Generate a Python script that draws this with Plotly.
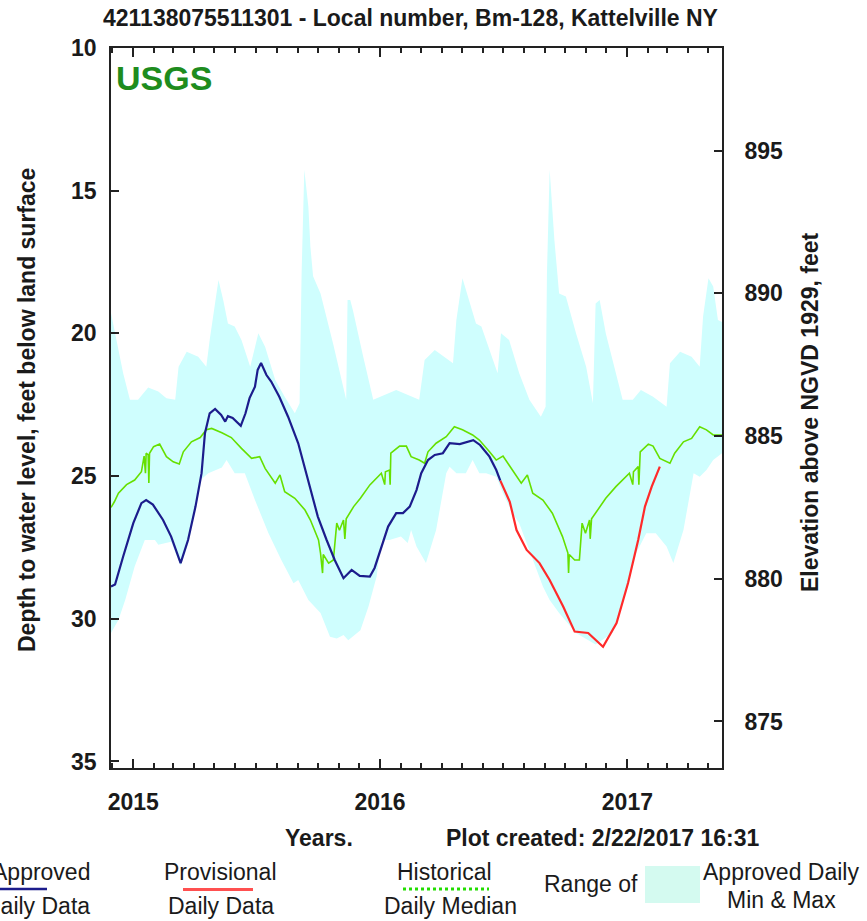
import plotly.graph_objects as go

# ---------------- data ----------------
LAND_SURFACE = 908.6  # elevation of land surface, ft NGVD 1929

approved_dates = ["2014-11-29", "2014-12-05", "2014-12-17", "2015-01-01", "2015-01-13", "2015-01-20",
                  "2015-01-30", "2015-02-14", "2015-02-26", "2015-03-12", "2015-03-23", "2015-04-03",
                  "2015-04-12", "2015-04-17", "2015-04-24", "2015-05-02", "2015-05-11", "2015-05-17",
                  "2015-05-21", "2015-05-28", "2015-06-09", "2015-06-16", "2015-06-22", "2015-06-30",
                  "2015-07-04", "2015-07-09", "2015-07-17", "2015-07-24", "2015-08-05", "2015-08-18",
                  "2015-09-02", "2015-09-16", "2015-10-01", "2015-10-14", "2015-10-26", "2015-11-08",
                  "2015-11-20", "2015-12-02", "2015-12-17", "2015-12-24", "2016-01-03", "2016-01-13",
                  "2016-01-25", "2016-02-04", "2016-02-14", "2016-02-24", "2016-03-02", "2016-03-12",
                  "2016-03-22", "2016-04-03", "2016-04-13", "2016-04-28", "2016-05-18", "2016-05-28",
                  "2016-06-11", "2016-06-21", "2016-06-27"]
approved_depth = [28.87, 28.80, 27.82, 26.65, 25.95, 25.84,
                  26.00, 26.54, 27.12, 28.05, 27.24, 26.07,
                  24.90, 23.50, 22.80, 22.65, 22.86, 23.09,
                  22.90, 22.96, 23.24, 22.80, 22.27, 21.87,
                  21.28, 21.04, 21.46, 21.69, 22.22, 22.92,
                  23.85, 25.14, 26.42, 27.24, 27.94, 28.58,
                  28.29, 28.50, 28.52, 28.22, 27.47, 26.77,
                  26.30, 26.30, 26.07, 25.49, 24.90, 24.44,
                  24.26, 24.20, 23.85, 23.88, 23.74, 23.91,
                  24.32, 24.79, 25.16]

provisional_dates = ["2016-06-27", "2016-07-01", "2016-07-11", "2016-07-21", "2016-07-26", "2016-08-05",
                     "2016-08-24", "2016-09-08", "2016-09-28", "2016-10-15", "2016-11-04", "2016-11-26",
                     "2016-12-16", "2017-01-02", "2017-01-17", "2017-01-27", "2017-02-06", "2017-02-18"]
provisional_depth = [25.16, 25.37, 25.90, 26.89, 27.12, 27.59,
                     28.05, 28.64, 29.57, 30.45, 30.50, 30.98,
                     30.15, 28.75, 27.24, 26.07, 25.37, 24.67]

median_dates = ["2014-11-29", "2014-12-04", "2014-12-10", "2014-12-22", "2015-01-03", "2015-01-08",
                "2015-01-13", "2015-01-17", "2015-01-19", "2015-01-20", "2015-01-23", "2015-01-24",
                "2015-01-25", "2015-01-31", "2015-02-09", "2015-02-19", "2015-03-01", "2015-03-10",
                "2015-03-16", "2015-03-28", "2015-04-10", "2015-04-19", "2015-04-27", "2015-05-12",
                "2015-05-26", "2015-06-10", "2015-06-25", "2015-07-07", "2015-07-15", "2015-07-30",
                "2015-08-06", "2015-08-13", "2015-08-28", "2015-09-12", "2015-09-20", "2015-10-02",
                "2015-10-05", "2015-10-08", "2015-10-09", "2015-10-17", "2015-10-24", "2015-10-29",
                "2015-11-02", "2015-11-08", "2015-11-10", "2015-11-12", "2015-11-23", "2015-12-03",
                "2015-12-17", "2016-01-03", "2016-01-08", "2016-01-09", "2016-01-15", "2016-01-16",
                "2016-01-17", "2016-01-30", "2016-02-09", "2016-02-16", "2016-02-28", "2016-03-07",
                "2016-03-12", "2016-03-24", "2016-04-08", "2016-04-20", "2016-05-02", "2016-05-17",
                "2016-05-27", "2016-06-11", "2016-06-21", "2016-07-01", "2016-07-10", "2016-07-28",
                "2016-08-06", "2016-08-14", "2016-08-29", "2016-09-12", "2016-09-27", "2016-10-05",
                "2016-10-06", "2016-10-07", "2016-10-15", "2016-10-22", "2016-10-26", "2016-10-31",
                "2016-11-06", "2016-11-07", "2016-11-09", "2016-11-21", "2016-11-30", "2016-12-15",
                "2017-01-04", "2017-01-09", "2017-01-10", "2017-01-17", "2017-01-18", "2017-01-20",
                "2017-02-01", "2017-02-08", "2017-02-18", "2017-03-05", "2017-03-12", "2017-03-25",
                "2017-04-06", "2017-04-18", "2017-04-28", "2017-05-08", "2017-05-21"]
median_depth = [26.10, 25.90, 25.60, 25.30, 25.14, 25.00,
                24.85, 24.30, 24.90, 24.20, 24.26, 25.24,
                24.20, 23.97, 23.88, 24.32, 24.50, 24.58,
                24.15, 23.80, 23.65, 23.38, 23.33, 23.48,
                23.65, 24.03, 24.38, 24.32, 24.73, 25.25,
                24.96, 25.55, 25.78, 26.19, 26.54, 27.24,
                27.70, 28.40, 27.75, 28.05, 27.94, 26.65,
                26.90, 26.54, 27.20, 26.50, 26.07, 25.78,
                25.31, 24.90, 25.30, 24.85, 24.79, 25.30,
                24.20, 23.95, 23.95, 24.32, 24.44, 24.55,
                24.15, 23.85, 23.62, 23.27, 23.38, 23.56,
                23.74, 24.15, 24.44, 24.30, 24.61, 25.25,
                24.96, 25.60, 25.84, 26.30, 27.12, 27.70,
                28.40, 27.75, 27.94, 27.94, 26.65, 27.00,
                26.54, 27.20, 26.50, 26.07, 25.78, 25.37,
                24.90, 25.30, 24.85, 24.67, 25.30, 24.15,
                23.88, 23.95, 24.38, 24.55, 24.20, 23.80,
                23.68, 23.27, 23.38, 23.56, 23.56]

# Range of approved daily min & max (depth): shallowest (top edge) and deepest (bottom edge)
range_min_dates = ["2014-11-29", "2014-12-07", "2014-12-17", "2014-12-27", "2015-01-08", "2015-01-23",
                   "2015-02-07", "2015-02-19", "2015-03-04", "2015-03-09", "2015-03-21", "2015-04-07",
                   "2015-04-19", "2015-04-24", "2015-05-02", "2015-05-07", "2015-05-14", "2015-05-21",
                   "2015-05-31", "2015-06-10", "2015-06-23", "2015-07-05", "2015-07-15", "2015-07-30",
                   "2015-08-13", "2015-08-28", "2015-09-04", "2015-09-07", "2015-09-11", "2015-09-17",
                   "2015-09-20", "2015-09-24", "2015-10-05", "2015-10-24", "2015-11-12", "2015-11-14",
                   "2015-11-18", "2015-11-22", "2015-12-07", "2015-12-22", "2016-01-25", "2016-02-28",
                   "2016-03-07", "2016-03-22", "2016-04-18", "2016-04-23", "2016-05-02", "2016-05-22",
                   "2016-05-30", "2016-06-23", "2016-06-28", "2016-07-10", "2016-07-25", "2016-08-09",
                   "2016-08-26", "2016-09-02", "2016-09-04", "2016-09-08", "2016-09-15", "2016-09-22",
                   "2016-10-02", "2016-10-17", "2016-11-01", "2016-11-11", "2016-11-15", "2016-11-21",
                   "2016-11-30", "2016-12-15", "2016-12-25", "2017-01-09", "2017-01-21", "2017-02-08",
                   "2017-02-28", "2017-03-05", "2017-03-20", "2017-04-06", "2017-04-18", "2017-04-23",
                   "2017-05-01", "2017-05-08", "2017-05-15", "2017-05-21"]
range_min_depth = [19.29, 20.23, 21.40, 22.33, 22.33, 21.90,
                   22.04, 22.27, 22.33, 21.17, 20.64, 20.82,
                   21.17, 20.23, 18.83, 18.13, 18.83, 19.65,
                   19.76, 20.23, 21.17, 20.00, 20.47, 21.63,
                   22.22, 22.80, 22.45, 17.90, 14.27, 15.56,
                   16.96, 18.00, 18.60, 20.40, 22.33, 18.83,
                   18.83, 19.20, 20.80, 22.33, 21.98, 22.33,
                   20.93, 20.58, 21.05, 19.53, 18.07, 19.65,
                   19.76, 21.40, 20.00, 20.23, 21.40, 22.33,
                   22.92, 22.57, 17.90, 14.27, 16.73, 18.60,
                   18.71, 20.00, 21.17, 22.45, 18.95, 18.83,
                   20.00, 21.40, 22.33, 22.33, 21.98, 22.22,
                   22.57, 21.05, 20.64, 20.82, 21.17, 19.41,
                   18.07, 18.36, 19.53, 19.60]

range_max_dates = ["2014-11-29", "2014-12-10", "2014-12-20", "2015-01-03", "2015-01-18", "2015-02-02",
                   "2015-02-07", "2015-02-26", "2015-03-12", "2015-03-23", "2015-04-03", "2015-04-12",
                   "2015-04-22", "2015-05-12", "2015-05-19", "2015-05-31", "2015-06-15", "2015-06-30",
                   "2015-07-20", "2015-08-08", "2015-08-26", "2015-09-02", "2015-09-17", "2015-10-05",
                   "2015-10-19", "2015-10-29", "2015-11-08", "2015-11-15", "2015-12-03", "2015-12-15",
                   "2015-12-27", "2016-01-03", "2016-01-15", "2016-02-01", "2016-02-11", "2016-02-16",
                   "2016-02-24", "2016-03-09", "2016-03-24", "2016-04-08", "2016-04-13", "2016-04-23",
                   "2016-05-07", "2016-05-17", "2016-05-27", "2016-06-06", "2016-06-21", "2016-07-01",
                   "2016-07-15", "2016-07-25", "2016-08-14", "2016-08-29", "2016-09-08", "2016-09-22",
                   "2016-10-17", "2016-11-15", "2016-12-10", "2016-12-30", "2017-01-14", "2017-01-29",
                   "2017-02-12", "2017-02-28", "2017-03-10", "2017-03-25", "2017-04-09", "2017-04-18",
                   "2017-04-28", "2017-05-08", "2017-05-21"]
range_max_depth = [30.50, 30.04, 29.34, 28.17, 27.24, 27.24,
                   27.41, 27.30, 28.15, 27.40, 26.20, 25.10,
                   24.90, 24.70, 24.44, 24.90, 24.90, 25.84,
                   27.00, 27.94, 28.76, 28.64, 29.34, 29.80,
                   30.63, 30.69, 30.57, 30.75, 30.40, 29.57,
                   28.52, 27.24, 27.24, 27.12, 27.35, 26.89,
                   27.47, 28.05, 26.89, 24.90, 24.67, 24.90,
                   24.90, 24.44, 24.90, 24.90, 25.02, 25.60,
                   26.30, 26.65, 27.94, 28.87, 29.34, 29.80,
                   30.50, 30.90, 30.50, 29.10, 27.70, 27.00,
                   27.00, 27.47, 28.05, 26.89, 24.90, 25.02,
                   24.79, 24.44, 24.20]

x_range = ["2014-11-29", "2017-05-21"]
depth_range = [35.23, 10.0]

title_text = "421138075511301 - Local number, Bm-128, Kattelville NY"
created_text = "Plot created: 2/22/2017 16:31"

# ---------------- styling ----------------
W, H = 867, 921
ML, MR, MT, MB = 111, 145, 48, 153
PW, PH = W - ML - MR, H - MT - MB
FONT = "Liberation Sans, Arial, Helvetica, sans-serif"
INK = "#1a1a1a"
BAND = "#CFFEFE"
AXIS = "#222222"


def px(x):
    return (x - ML) / PW


def py(y):
    return (H - MB - y) / PH


fig = go.Figure()

# min/max band polygon
fig.add_trace(go.Scatter(
    x=range_min_dates + range_max_dates[::-1],
    y=range_min_depth + range_max_depth[::-1],
    fill="toself", fillcolor=BAND, line=dict(width=0), mode="lines",
    hoverinfo="skip", showlegend=False))

fig.add_trace(go.Scatter(x=median_dates, y=median_depth, mode="lines",
                         line=dict(color="#66E000", width=1.6), showlegend=False))
fig.add_trace(go.Scatter(x=approved_dates, y=approved_depth, mode="lines",
                         line=dict(color="#1C1C8C", width=2.2), showlegend=False))
fig.add_trace(go.Scatter(x=provisional_dates, y=provisional_depth, mode="lines",
                         line=dict(color="#FF2A2A", width=2.2), showlegend=False))
# elevation axis carrier (invisible)
fig.add_trace(go.Scatter(x=[approved_dates[0]], y=[LAND_SURFACE - approved_depth[0]], yaxis="y2",
                         mode="markers", marker=dict(opacity=0), hoverinfo="skip", showlegend=False))

tickfont = dict(family=FONT, size=23, color=INK, weight="bold")

fig.update_layout(
    width=W, height=H,
    margin=dict(l=ML, r=MR, t=MT, b=MB, pad=0),
    paper_bgcolor="white", plot_bgcolor="white",
    showlegend=False,
    font=dict(family=FONT, color=INK),
    xaxis=dict(
        type="date", range=x_range, showgrid=False, zeroline=False,
        showline=True, linecolor=AXIS, linewidth=1.8, mirror="ticks",
        ticks="inside", ticklen=9, tickwidth=1.8, tickcolor=AXIS,
        dtick="M12", tick0="2015-01-01", tickformat="%Y",
        tickfont=tickfont, ticklabelstandoff=12,
        minor=dict(dtick="M1", ticks="inside", ticklen=5, tickwidth=1.6, tickcolor=AXIS, showgrid=False),
    ),
    yaxis=dict(
        range=depth_range, showgrid=False, zeroline=False,
        showline=True, linecolor=AXIS, linewidth=1.8,
        ticks="inside", ticklen=8, tickwidth=1.8, tickcolor=AXIS,
        dtick=5, tick0=10, tickfont=tickfont, ticklabelstandoff=8,
    ),
    yaxis2=dict(
        range=[LAND_SURFACE - depth_range[0], LAND_SURFACE - depth_range[1]],
        overlaying="y", side="right", showgrid=False, zeroline=False,
        showline=True, linecolor=AXIS, linewidth=1.8,
        ticks="inside", ticklen=8, tickwidth=1.8, tickcolor=AXIS,
        dtick=5, tick0=875, tickfont=tickfont, ticklabelstandoff=16,
    ),
)

ann = []


def add_text(text, x, y, size=23, bold=False, color=INK, xanchor="center", angle=0):
    ann.append(dict(text=text, xref="paper", yref="paper", x=px(x), y=py(y),
                    xanchor=xanchor, yanchor="middle", showarrow=False, textangle=angle,
                    font=dict(family=FONT, size=size, color=color,
                              weight="bold" if bold else "normal")))


add_text(title_text, 410, 18, bold=True)
add_text("USGS", 114, 78, size=34, bold=True, color="#1E8C1E", xanchor="left")
add_text("Depth to water level, feet below land surface", 27, 410, bold=True, angle=-90)
add_text("Elevation above NGVD 1929, feet", 810, 412, bold=True, angle=-90)
add_text("Years.", 319, 838, bold=True)
add_text(created_text, 602, 838, bold=True)

# legend (the first entry runs off the left edge, as in the reference)
add_text("Approved", 92, 872, xanchor="right")
add_text("Daily Data", 92, 906, xanchor="right")
add_text("Provisional", 220, 872)
add_text("Daily Data", 221, 906)
add_text("Historical", 444, 872)
add_text("Daily Median", 450, 906)
add_text("Range of", 591, 884)
add_text("Approved Daily", 781, 872)
add_text("Min & Max", 781, 900)

shapes = [
    dict(type="line", xref="paper", yref="paper", x0=px(-20), x1=px(47), y0=py(889), y1=py(889),
         line=dict(color="#1C1C8C", width=2.5)),
    dict(type="line", xref="paper", yref="paper", x0=px(183), x1=px(253), y0=py(889.5), y1=py(889.5),
         line=dict(color="#FF5050", width=3)),
    dict(type="line", xref="paper", yref="paper", x0=px(403), x1=px(489), y0=py(889), y1=py(889),
         line=dict(color="#22DD00", width=3, dash="dot")),
    dict(type="rect", xref="paper", yref="paper", x0=px(645), x1=px(700), y0=py(903), y1=py(866),
         fillcolor="#D4FAF0", line=dict(width=0)),
]

fig.update_layout(annotations=ann, shapes=shapes)

fig.write_html("out.html")
